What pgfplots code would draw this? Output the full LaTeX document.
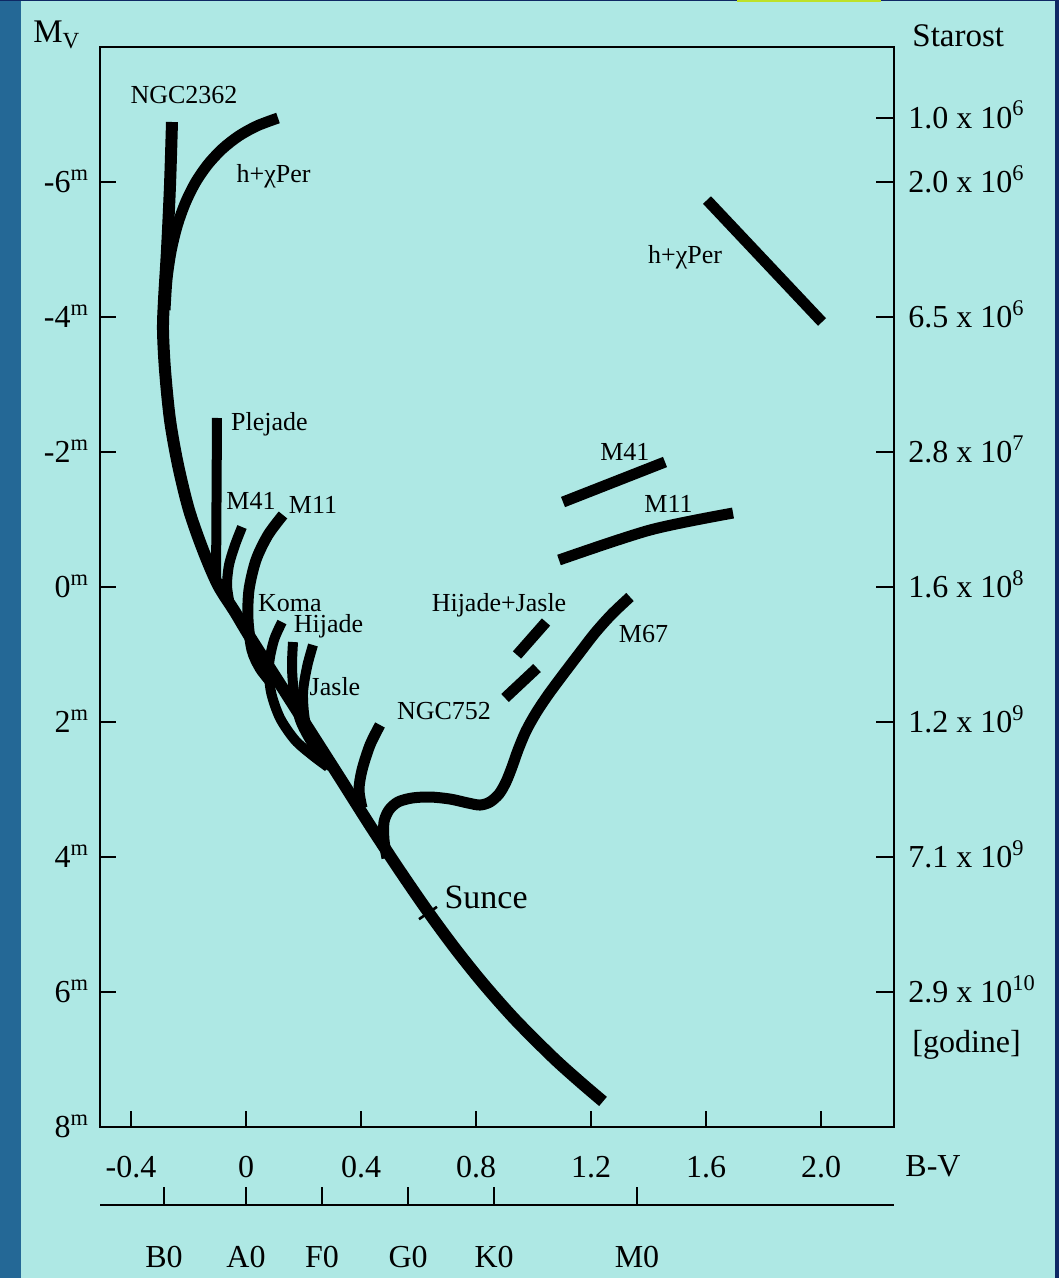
\documentclass[border=0pt]{standalone}
\usepackage{fontspec}
\setmainfont{Liberation Serif}
\usepackage{pgfplots}
\pgfplotsset{compat=1.18}
\definecolor{panel}{RGB}{174,232,228}
\definecolor{leftblue}{RGB}{36,104,150}
\definecolor{navy}{RGB}{14,40,100}
\definecolor{ylw}{RGB}{190,225,40}
\newcommand{\tfont}{\fontsize{16}{19}\selectfont}
\newcommand{\lfont}{\fontsize{13}{15}\selectfont}
\begin{document}
\begin{tikzpicture}
\useasboundingbox (0,0) rectangle (529.5pt,-639pt);
\fill[panel] (0,0) rectangle (529.5pt,-639pt);
\fill[leftblue] (0,0) rectangle (10.5pt,-639pt);
\fill[navy] (0,0) rectangle (529.5pt,-0.6pt);
\fill[navy] (527.5pt,0) rectangle (529.5pt,-639pt);
\fill[ylw] (368.5pt,0) rectangle (440.5pt,-0.9pt);

% main axis (y value = -M_V)
\begin{axis}[
  at={(50pt,-563.5pt)}, anchor=south west,
  scale only axis, width=397pt, height=540pt,
  xmin=-0.50783, xmax=2.25391, ymin=-8, ymax=8,
  clip=false,
  axis line style={line width=1.2pt, black},
  tick align=inside, tick pos=left,
  major tick length=8pt,
  tick style={line width=1pt, black},
  xtick={-0.4,0,0.4,0.8,1.2,1.6,2.0},
  xticklabels={-0.4,0,0.4,0.8,1.2,1.6,2.0},
  ytick={-8,-6,-4,-2,0,2,4,6},
  yticklabels={8\textsuperscript{m},6\textsuperscript{m},4\textsuperscript{m},2\textsuperscript{m},0\textsuperscript{m},-2\textsuperscript{m},-4\textsuperscript{m},-6\textsuperscript{m}},
  xticklabel style={font=\tfont, anchor=base, yshift=-25pt},
  yticklabel style={font=\tfont, anchor=base east, yshift=-5.3pt, xshift=-2pt},
  every axis plot/.append style={line cap=butt, line join=round},
]
% main sequence incl. NGC2362
\addplot[black, line width=6pt, smooth] coordinates {
(-0.2574,6.889) (-0.2643,5.956) (-0.2748,4.993) (-0.2852,4.252) (-0.2887,3.807)
(-0.2817,3.215) (-0.2643,2.474) (-0.2365,1.807) (-0.1983,1.141) (-0.1496,0.548)
(-0.0974,0.030) (-0.0383,-0.370) (0.0139,-0.741) (0.1183,-1.437) (0.2226,-2.133)
(0.3270,-2.830) (0.4313,-3.532) (0.5357,-4.207) (0.6330,-4.809) (0.7270,-5.353)
(0.8243,-5.871) (0.9357,-6.407) (1.0678,-6.970) (1.1617,-7.330) (1.2417,-7.621)};
% h+chi Per upper branch
\addplot[black, line width=5.5pt, smooth] coordinates {
(0.1113,6.948) (0.0397,6.834) (-0.0247,6.683) (-0.0817,6.493) (-0.1318,6.265)
(-0.1748,6.0) (-0.2104,5.696) (-0.2390,5.356) (-0.2605,4.976) (-0.2748,4.559) (-0.2817,4.104)};
% Plejade
\addplot[black, line width=5pt] coordinates {(-0.1009,2.504) (-0.1043,0.03)};
% M41
\addplot[black, line width=5pt, smooth] coordinates {
(-0.0139,0.889) (-0.0383,0.622) (-0.0591,0.326) (-0.0661,0.030) (-0.0591,-0.193)};
% M11
\addplot[black, line width=5.5pt, smooth] coordinates {
(0.1287,1.067) (0.0765,0.770) (0.0348,0.400) (0.0104,-0.044) (0.0070,-0.489) (0.0209,-0.933) (0.0487,-1.2) (0.0835,-1.393)};
% Koma
\addplot[black, line width=5pt, smooth] coordinates {
(0.1252,-0.519) (0.0974,-0.785) (0.0800,-1.156) (0.0870,-1.556) (0.1183,-1.941) (0.1704,-2.267) (0.2296,-2.489) (0.2852,-2.667)};
% Hijade
\addplot[black, line width=5pt, smooth] coordinates {
(0.1635,-0.815) (0.1600,-1.185) (0.1670,-1.570) (0.1878,-1.970) (0.2226,-2.267) (0.2574,-2.489) (0.2957,-2.667)};
% Jasle
\addplot[black, line width=5pt, smooth] coordinates {
(0.2330,-0.859) (0.2122,-1.185) (0.1983,-1.570) (0.2052,-1.970) (0.2296,-2.267) (0.2643,-2.489) (0.3026,-2.667)};
% NGC752
\addplot[black, line width=5.5pt, smooth] coordinates {
(0.4661,-2.044) (0.4313,-2.341) (0.4035,-2.711) (0.3930,-3.007) (0.4035,-3.274)};
% M67
\addplot[black, line width=5.5pt, smooth] coordinates {
(0.4904,-4.015) (0.4800,-3.748) (0.4800,-3.481) (0.4974,-3.304) (0.5287,-3.185)
(0.5774,-3.126) (0.6400,-3.111) (0.7096,-3.141) (0.7722,-3.200) (0.8139,-3.230)
(0.8487,-3.185) (0.8800,-3.067) (0.9043,-2.889) (0.9252,-2.667) (0.9461,-2.415)
(0.9739,-2.133) (1.0087,-1.867) (1.0504,-1.600) (1.0991,-1.319) (1.1548,-1.007)
(1.2139,-0.681) (1.2730,-0.400) (1.3357,-0.148)};
% Hijade+Jasle giants
\addplot[black, line width=5.5pt] coordinates {(1.0435,-0.519) (0.9426,-1.007)};
\addplot[black, line width=5.5pt] coordinates {(1.0122,-1.2) (0.9009,-1.644)};
% M41 giants
\addplot[black, line width=5.5pt] coordinates {(1.1026,1.259) (1.4574,1.852)};
% M11 giants
\addplot[black, line width=5.5pt, smooth] coordinates {(1.0887,0.400) (1.4052,0.844) (1.6939,1.096)};
% h+chi Per supergiants
\addplot[black, line width=5.5pt] coordinates {(1.6035,5.733) (2.0035,3.926)};
% Sun tick
\addplot[black, line width=1.3pt] coordinates {(0.6017,-4.921) (0.6643,-4.738)};

\begin{scope}[every node/.style={font=\lfont, anchor=base, inner sep=0pt}]
\node at (axis cs:-0.2157,7.170) {NGC2362};
\node at (axis cs:0.0957,6.0) {h+χPer};
\node at (axis cs:1.527,4.8) {h+χPer};
\node at (axis cs:0.0817,2.326) {Plejade};
\node at (axis cs:0.0174,1.141) {M41};
\node at (axis cs:0.233,1.096) {M11};
\node at (axis cs:0.153,-0.370) {Koma};
\node at (axis cs:0.287,-0.681) {Hijade};
\node at (axis cs:0.3096,-1.6) {Jasle};
\node at (axis cs:0.6887,-1.970) {NGC752};
\node at (axis cs:0.880,-0.370) {Hijade+Jasle};
\node at (axis cs:1.3826,-0.815) {M67};
\node at (axis cs:1.318,1.867) {M41};
\node at (axis cs:1.4696,1.111) {M11};
\node[font=\fontsize{17}{20}\selectfont] at (axis cs:0.835,-4.770) {Sunce};
\end{scope}
\end{axis}

% right age axis
\begin{axis}[
  at={(50pt,-563.5pt)}, anchor=south west,
  scale only axis, width=397pt, height=540pt,
  xmin=-0.50783, xmax=2.25391, ymin=-8, ymax=8,
  axis x line=none, axis y line*=right,
  axis line style={line width=1.2pt, black},
  tick align=inside, major tick length=9pt,
  tick style={line width=1pt, black},
  ytick={-6,-4,-2,0,2,4,6,6.95},
  yticklabels={2.9 x 10\textsuperscript{10},7.1 x 10\textsuperscript{9},1.2 x 10\textsuperscript{9},1.6 x 10\textsuperscript{8},2.8 x 10\textsuperscript{7},6.5 x 10\textsuperscript{6},2.0 x 10\textsuperscript{6},1.0 x 10\textsuperscript{6}},
  yticklabel style={font=\tfont, anchor=base west, yshift=-5.3pt, xshift=3.7pt},
]
\end{axis}

% spectral class axis
\begin{axis}[
  at={(50pt,-602.5pt)}, anchor=south west,
  scale only axis, width=397pt, height=5pt,
  xmin=-0.50783, xmax=2.25391, ymin=0, ymax=1,
  axis x line*=bottom, axis y line=none,
  axis line style={line width=1.4pt, black},
  tick align=inside, major tick length=9pt,
  tick style={line width=1pt, black},
  xtick={-0.285,0,0.264,0.564,0.863,1.36},
  xticklabels={B0,A0,F0,G0,K0,M0},
  xticklabel style={font=\tfont, anchor=base, yshift=-31pt},
]
\end{axis}

\node[font=\fontsize{16.5}{19}\selectfont, anchor=base west, inner sep=0pt] at (16.5pt,-21.5pt) {M\textsubscript{V}};
\node[font=\fontsize{16.5}{19}\selectfont, anchor=base west, inner sep=0pt] at (456pt,-23.5pt) {Starost};
\node[font=\tfont, anchor=base west, inner sep=0pt] at (452.5pt,-588pt) {B-V};
\node[font=\tfont, anchor=base west, inner sep=0pt] at (456pt,-526pt) {[godine]};
\end{tikzpicture}
\end{document}
